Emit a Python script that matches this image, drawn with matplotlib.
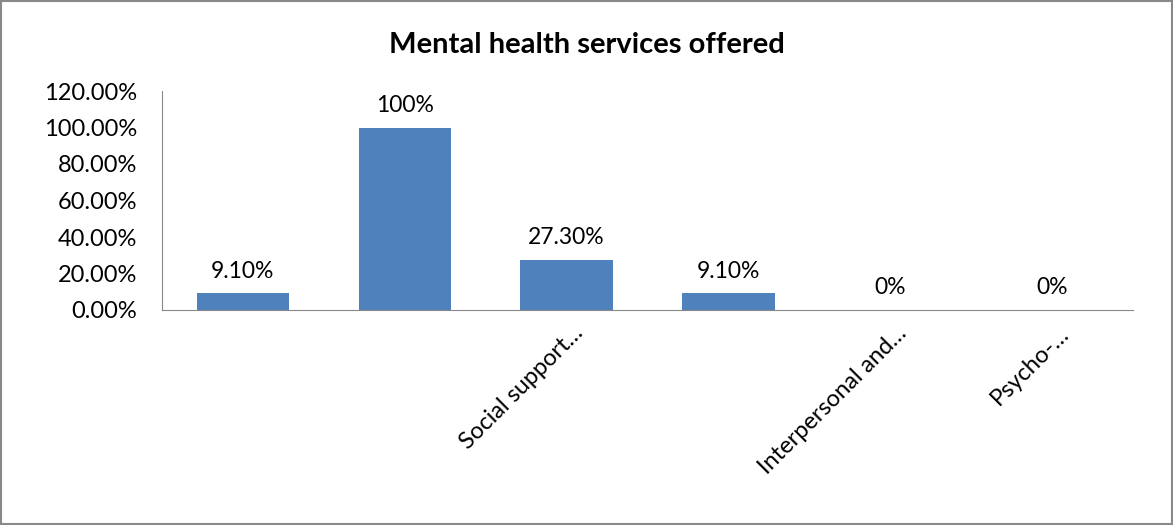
import matplotlib.pyplot as plt
from matplotlib.patches import Rectangle
from matplotlib.ticker import FuncFormatter
from matplotlib.transforms import ScaledTranslation

# categories (only three names are readable in the source chart)
categories = ["", "", "Social support…", "", "Interpersonal and…", "Psycho-…"]
values = [9.1, 100, 27.3, 9.1, 0, 0]
value_labels = ["9.10%", "100%", "27.30%", "9.10%", "0%", "0%"]

plt.rcParams['font.family'] = ['Lato', 'DejaVu Sans']

fig = plt.figure(figsize=(11.73, 5.25), dpi=100)
ax = fig.add_axes([162 / 1173, 1 - 310 / 525, (1133 - 162) / 1173, (310 - 91) / 525])

x = range(len(values))
ax.bar(x, values, width=0.57, color='#4f81bd')

for xi, v, lab in zip(x, values, value_labels):
    ax.text(xi, v + 6.5, lab, ha='center', va='bottom', fontsize=16.5)

ax.set_xlim(-0.5, len(values) - 0.5)
ax.set_ylim(0, 120)
ax.set_yticks(range(0, 121, 20))
ax.yaxis.set_major_formatter(FuncFormatter(lambda v, p: f'{v:.2f}%'))
ax.set_xticks(list(x))
ax.set_xticklabels(categories, rotation=45, ha='right', rotation_mode='anchor', fontsize=17)
ax.tick_params(axis='y', length=0, labelsize=17, pad=18)
ax.tick_params(axis='x', length=0, pad=9)

# nudge rotated labels to the right, as in the original
shift = ScaledTranslation(6 / 100, 0, fig.dpi_scale_trans)
for lbl in ax.get_xticklabels():
    lbl.set_transform(lbl.get_transform() + shift)

for side in ['top', 'right']:
    ax.spines[side].set_visible(False)
for side in ['left', 'bottom']:
    ax.spines[side].set_color('#888888')

fig.text(0.5, 1 - 45 / 525, 'Mental health services offered', ha='center', va='center',
         fontsize=21, fontweight='bold')

# outer chart border
fig.patches.append(Rectangle((0.001, 0.002), 0.998, 0.996, transform=fig.transFigure,
                             fill=False, edgecolor='#888888', linewidth=1.5))

fig.savefig('out.png', dpi=100)
